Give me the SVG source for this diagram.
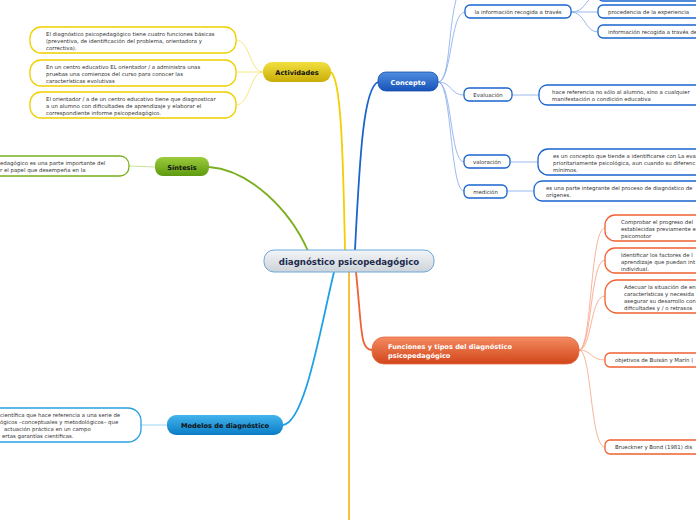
<svg xmlns="http://www.w3.org/2000/svg" width="696" height="520" viewBox="0 0 696 520">
<defs>
<linearGradient id="gCenter" x1="0" y1="0" x2="0" y2="1"><stop offset="0" stop-color="#f4f6f8"/><stop offset="1" stop-color="#cdd3d9"/></linearGradient>
<linearGradient id="gBlue" x1="0" y1="0" x2="0" y2="1"><stop offset="0" stop-color="#4f8ee0"/><stop offset="1" stop-color="#1753b8"/></linearGradient>
<linearGradient id="gYellow" x1="0" y1="0" x2="0" y2="1"><stop offset="0" stop-color="#f2e040"/><stop offset="1" stop-color="#c8ad08"/></linearGradient>
<linearGradient id="gGreen" x1="0" y1="0" x2="0" y2="1"><stop offset="0" stop-color="#9ccc3c"/><stop offset="1" stop-color="#5e9a10"/></linearGradient>
<linearGradient id="gCyan" x1="0" y1="0" x2="0" y2="1"><stop offset="0" stop-color="#44b4ec"/><stop offset="1" stop-color="#0a7cc6"/></linearGradient>
<linearGradient id="gOrange" x1="0" y1="0" x2="0" y2="1"><stop offset="0" stop-color="#f48a60"/><stop offset="1" stop-color="#d2461a"/></linearGradient>
</defs>
<style>
text{font-family:"DejaVu Sans",Verdana,sans-serif;}
.t{font-size:5.4px;fill:#333;}
.lbl{font-size:6.6px;font-weight:bold;}
.yb{fill:#fff;stroke:#f0d000;stroke-width:1.3;}
.bb{fill:#fff;stroke:#1a64d0;stroke-width:1.3;}
.cb{fill:#fff;stroke:#2aa0e0;stroke-width:1.3;}
.gb{fill:#fff;stroke:#7ab020;stroke-width:1.3;}
.ob{fill:#fff;stroke:#f06030;stroke-width:1.3;}
.c{fill:none;}
</style>
<g id="connectors">
<path class="c" d="M345,250 C343,150 341,80 331,72" stroke="#f0d000" stroke-width="1.8"/>
<path class="c" d="M355,250 C360,150 364,88 378,82" stroke="#1a64d0" stroke-width="1.8"/>
<path class="c" d="M308,251 C290,210 250,170 209,167" stroke="#7ab020" stroke-width="1.8"/>
<path class="c" d="M334,272 C320,330 305,422 283,425" stroke="#1ea0e6" stroke-width="1.8"/>
<path class="c" d="M349,272 L349,520" stroke="#f8c040" stroke-width="2"/>
<path class="c" d="M356,272 C362,330 360,350 372,350" stroke="#f06030" stroke-width="1.8"/>
<g stroke="#f4e060" stroke-width="0.8" fill="none">
<path d="M263,72 C250,72 250,40 236,40"/>
<path d="M263,72 L236,72"/>
<path d="M263,72 C250,72 250,105 236,105"/>
</g>
<path class="c" d="M155,167 L129,166" stroke="#b8d880" stroke-width="0.8"/>
<path class="c" d="M167,425 L141,425" stroke="#80c8f0" stroke-width="0.8"/>
<g stroke="#80a8e8" stroke-width="0.8" fill="none">
<path d="M438,82 C450,82 448,30 456,0"/>
<path d="M438,82 C452,82 450,12 465,12"/>
<path d="M438,82 C452,82 450,95 464,95"/>
<path d="M438,82 C452,82 450,162 464,162"/>
<path d="M438,82 C452,82 450,191 464,191"/>
<path d="M571,12 C585,12 585,0 592,-2"/>
<path d="M571,12 L598,12"/>
<path d="M571,12 C585,12 585,32 598,32"/>
<path d="M512,95 L539,95"/>
<path d="M510,162 L538,162"/>
<path d="M507,191 L534,191"/>
</g>
<g stroke="#f8a080" stroke-width="0.8" fill="none">
<path d="M579,350 C592,350 590,228 605,228"/>
<path d="M579,350 C592,350 590,260 605,260"/>
<path d="M579,350 C592,350 590,296 605,296"/>
<path d="M579,350 C592,350 590,360 605,360"/>
<path d="M579,350 C592,350 590,447 605,447"/>
</g>
</g>
<g id="center">
<rect x="264" y="250" width="170" height="22" rx="10" fill="url(#gCenter)" stroke="#6aa8dc" stroke-width="1"/>
<text x="349" y="265" text-anchor="middle" style="font-size:8.6px;font-weight:bold;fill:#1c2a4c">diagnóstico psicopedagógico</text>
</g>
<g id="actividades">
<rect x="263" y="62" width="68" height="20" rx="9" fill="url(#gYellow)"/>
<text class="lbl" x="297" y="75" text-anchor="middle" fill="#111">Actividades</text>
</g>
<g id="act1"><rect class="yb" x="30" y="27" width="206" height="26" rx="11"/>
<text class="t" x="46" y="36">El diagnóstico psicopedagógico tiene cuatro funciones básicas</text>
<text class="t" x="46" y="43">(preventiva, de identificación del problema, orientadora y</text>
<text class="t" x="46" y="50">correctiva).</text></g>
<g id="act2"><rect class="yb" x="30" y="60" width="206" height="26" rx="11"/>
<text class="t" x="46" y="69">En un centro educativo EL orientador / a administra unas</text>
<text class="t" x="46" y="76">pruebas una comienzos del curso para conocer las</text>
<text class="t" x="46" y="83">características evolutivas</text></g>
<g id="act3"><rect class="yb" x="30" y="92" width="206" height="26" rx="11"/>
<text class="t" x="46" y="101">El orientador / a de un centro educativo tiene que diagnosticar</text>
<text class="t" x="46" y="108">a un alumno con dificultades de aprendizaje y elaborar el</text>
<text class="t" x="46" y="115">correspondiente informe psicopedagógico.</text></g>
<g id="sintesis">
<rect x="155" y="157" width="54" height="19" rx="8" fill="url(#gGreen)"/>
<text class="lbl" x="182" y="169.5" text-anchor="middle" fill="#111">Síntesis</text>
</g>
<g id="sintesis-text"><rect class="gb" x="-20" y="156" width="149" height="20" rx="9"/>
<text class="t" x="0" y="165">edagógico es una parte importante del</text>
<text class="t" x="0" y="172">r el papel que desempeña en la</text></g>
<g id="modelos">
<rect x="167" y="415" width="116" height="20" rx="9" fill="url(#gCyan)"/>
<text class="lbl" x="225" y="428" text-anchor="middle" fill="#111">Modelos de diagnóstico</text>
</g>
<g id="modelos-text"><rect class="cb" x="-20" y="408" width="161" height="34" rx="13"/>
<text class="t" x="0" y="417">científica que hace referencia a una serie de</text>
<text class="t" x="0" y="424">ógicos –conceptuales y metodológicos– que</text>
<text class="t" x="4" y="431">actuación práctica en un campo</text>
<text class="t" x="2" y="438">ertas garantías científicas.</text></g>
<g id="concepto">
<rect x="378" y="72" width="60" height="19" rx="8" fill="url(#gBlue)" stroke="#1a4ea8" stroke-width="0.8"/>
<text class="lbl" x="408" y="84.5" text-anchor="middle" fill="#fff">Concepto</text>
</g>
<g id="info"><rect class="bb" x="465" y="5" width="106" height="13" rx="5"/>
<text class="t" x="518" y="13.8" text-anchor="middle">la información recogida a través</text></g>
<g id="info-top"><rect class="bb" x="598" y="-14" width="110" height="15" rx="5"/></g>
<g id="procedencia"><rect class="bb" x="598" y="5" width="110" height="13" rx="5"/>
<text class="t" x="608" y="13.8">procedencia de la experiencia</text></g>
<g id="info2"><rect class="bb" x="598" y="25" width="110" height="13" rx="5"/>
<text class="t" x="608" y="33.8">información recogida a través de</text></g>
<g id="evaluacion"><rect class="bb" x="464" y="88" width="48" height="13" rx="5"/>
<text class="t" x="488" y="96.8" text-anchor="middle">Evaluación</text></g>
<g id="evaluacion-text"><rect class="bb" x="539" y="85" width="170" height="20" rx="8"/>
<text class="t" x="552" y="94">hace referencia no sólo al alumno, sino a cualquier</text>
<text class="t" x="552" y="101">manifestación o condición educativa</text></g>
<g id="valoracion"><rect class="bb" x="464" y="155" width="46" height="13" rx="5"/>
<text class="t" x="487" y="163.8" text-anchor="middle">valoración</text></g>
<g id="valoracion-text"><rect class="bb" x="538" y="149" width="170" height="26" rx="10"/>
<text class="t" x="553" y="158">es un concepto que tiende a identificarse con La eva</text>
<text class="t" x="553" y="165">prioritariamente psicológica, aun cuando su diferenc</text>
<text class="t" x="553" y="172">mínimos.</text></g>
<g id="medicion"><rect class="bb" x="464" y="185" width="43" height="13" rx="5"/>
<text class="t" x="485.5" y="193.8" text-anchor="middle">medición</text></g>
<g id="medicion-text"><rect class="bb" x="534" y="181" width="170" height="20" rx="8"/>
<text class="t" x="546" y="190">es una parte integrante del proceso de diagnóstico de</text>
<text class="t" x="546" y="197">orígenes.</text></g>
<g id="funciones">
<rect x="372" y="337" width="207" height="27" rx="12" fill="url(#gOrange)" stroke="#e86a40" stroke-width="0.8"/>
<text class="lbl" x="388" y="349" fill="#fff">Funciones y tipos del diagnóstico</text>
<text class="lbl" x="388" y="358" fill="#fff">psicopedagógico</text>
</g>
<g id="f1"><rect class="ob" x="605" y="215" width="110" height="26" rx="10"/>
<text class="t" x="621" y="224">Comprobar el progreso del</text>
<text class="t" x="621" y="231">establecidas previamente e</text>
<text class="t" x="621" y="238">psicomotor</text></g>
<g id="f2"><rect class="ob" x="605" y="248" width="110" height="25" rx="10"/>
<text class="t" x="621" y="257">Identificar los factores de l</text>
<text class="t" x="621" y="264">aprendizaje que puedan int</text>
<text class="t" x="621" y="271">individual.</text></g>
<g id="f3"><rect class="ob" x="605" y="280" width="110" height="33" rx="12"/>
<text class="t" x="624" y="289">Adecuar la situación de en</text>
<text class="t" x="624" y="296">características y necesida</text>
<text class="t" x="624" y="303">asegurar su desarrollo con</text>
<text class="t" x="624" y="310">dificultades y / o retrasos</text></g>
<g id="f4"><rect class="ob" x="605" y="353" width="110" height="14" rx="5"/>
<text class="t" x="615" y="362">objetivos de Buisán y Marín (</text></g>
<g id="f5"><rect class="ob" x="605" y="440" width="110" height="14" rx="5"/>
<text class="t" x="615" y="449">Brueckner y Bond (1981) dis</text></g>
</svg>
